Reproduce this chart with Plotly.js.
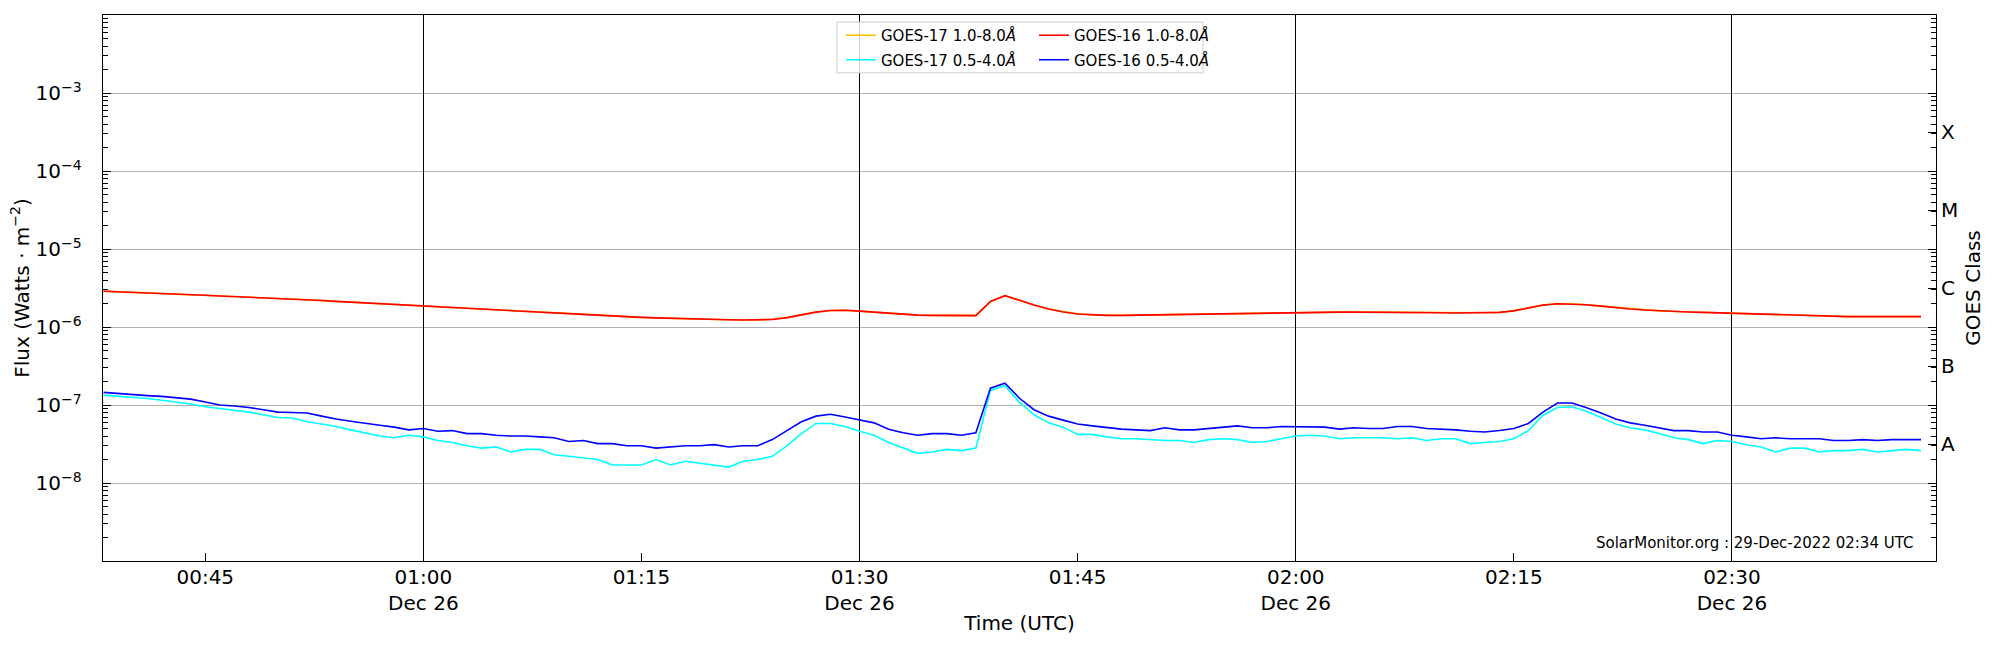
<!DOCTYPE html>
<html>
<head>
<meta charset="utf-8">
<script src="https://cdn.plot.ly/plotly-3.0.1.min.js"></script>
<style>
  html, body { margin: 0; padding: 0; background: #fff; }
  #chart { width: 2000px; height: 650px; }
</style>
</head>
<body>
<div id="chart"></div>
<script>
// GOES X-ray flux, 1-min cadence starting 2022-12-26 00:38 UTC (W m^-2)
const startTime = '2022-12-26 00:38:00';

const goes16Long = [
  2.87e-6, 2.83e-6, 2.78e-6, 2.74e-6, 2.69e-6, 2.65e-6, 2.60e-6, 2.55e-6, 2.50e-6, 2.46e-6,
  2.42e-6, 2.38e-6, 2.34e-6, 2.29e-6, 2.24e-6, 2.19e-6, 2.13e-6, 2.08e-6, 2.03e-6, 1.98e-6,
  1.93e-6, 1.89e-6, 1.86e-6, 1.82e-6, 1.77e-6, 1.73e-6, 1.69e-6, 1.65e-6, 1.61e-6, 1.57e-6,
  1.54e-6, 1.51e-6, 1.48e-6, 1.45e-6, 1.42e-6, 1.38e-6, 1.35e-6, 1.33e-6, 1.31e-6, 1.29e-6,
  1.28e-6, 1.27e-6, 1.25e-6, 1.24e-6, 1.23e-6, 1.23e-6, 1.25e-6, 1.32e-6, 1.42e-6, 1.55e-6,
  1.63e-6, 1.64e-6, 1.60e-6, 1.55e-6, 1.50e-6, 1.45e-6, 1.42e-6, 1.41e-6, 1.40e-6, 1.40e-6,
  1.40e-6, 2.13e-6, 2.52e-6, 2.20e-6, 1.91e-6, 1.70e-6, 1.56e-6, 1.47e-6, 1.43e-6, 1.41e-6,
  1.41e-6, 1.42e-6, 1.44e-6, 1.45e-6, 1.46e-6, 1.47e-6, 1.48e-6, 1.49e-6, 1.50e-6, 1.51e-6,
  1.52e-6, 1.53e-6, 1.54e-6, 1.54e-6, 1.55e-6, 1.55e-6, 1.55e-6, 1.55e-6, 1.55e-6, 1.55e-6,
  1.54e-6, 1.53e-6, 1.52e-6, 1.51e-6, 1.51e-6, 1.51e-6, 1.54e-6, 1.61e-6, 1.75e-6, 1.91e-6,
  1.99e-6, 1.98e-6, 1.93e-6, 1.85e-6, 1.76e-6, 1.70e-6, 1.65e-6, 1.61e-6, 1.58e-6, 1.56e-6,
  1.54e-6, 1.52e-6, 1.50e-6, 1.48e-6, 1.46e-6, 1.44e-6, 1.42e-6, 1.40e-6, 1.38e-6, 1.37e-6,
  1.36e-6, 1.36e-6, 1.36e-6, 1.36e-6, 1.36e-6, 1.36e-6
];

const goes17Long = [
  2.88e-6, 2.83e-6, 2.79e-6, 2.74e-6, 2.70e-6, 2.65e-6, 2.60e-6, 2.55e-6, 2.51e-6, 2.46e-6,
  2.42e-6, 2.38e-6, 2.33e-6, 2.29e-6, 2.24e-6, 2.18e-6, 2.13e-6, 2.08e-6, 2.03e-6, 1.98e-6,
  1.94e-6, 1.89e-6, 1.86e-6, 1.81e-6, 1.77e-6, 1.73e-6, 1.69e-6, 1.65e-6, 1.61e-6, 1.58e-6,
  1.54e-6, 1.51e-6, 1.48e-6, 1.45e-6, 1.41e-6, 1.38e-6, 1.35e-6, 1.33e-6, 1.31e-6, 1.29e-6,
  1.28e-6, 1.26e-6, 1.25e-6, 1.24e-6, 1.23e-6, 1.23e-6, 1.26e-6, 1.32e-6, 1.43e-6, 1.55e-6,
  1.63e-6, 1.64e-6, 1.60e-6, 1.55e-6, 1.50e-6, 1.46e-6, 1.42e-6, 1.41e-6, 1.40e-6, 1.40e-6,
  1.41e-6, 2.12e-6, 2.51e-6, 2.20e-6, 1.91e-6, 1.70e-6, 1.57e-6, 1.48e-6, 1.43e-6, 1.41e-6,
  1.41e-6, 1.42e-6, 1.43e-6, 1.45e-6, 1.46e-6, 1.47e-6, 1.48e-6, 1.49e-6, 1.50e-6, 1.51e-6,
  1.52e-6, 1.53e-6, 1.53e-6, 1.54e-6, 1.55e-6, 1.55e-6, 1.55e-6, 1.56e-6, 1.55e-6, 1.55e-6,
  1.54e-6, 1.53e-6, 1.52e-6, 1.52e-6, 1.51e-6, 1.52e-6, 1.54e-6, 1.62e-6, 1.76e-6, 1.91e-6,
  1.99e-6, 1.98e-6, 1.92e-6, 1.85e-6, 1.77e-6, 1.70e-6, 1.65e-6, 1.61e-6, 1.58e-6, 1.56e-6,
  1.54e-6, 1.52e-6, 1.50e-6, 1.48e-6, 1.46e-6, 1.44e-6, 1.42e-6, 1.40e-6, 1.38e-6, 1.37e-6,
  1.36e-6, 1.36e-6, 1.36e-6, 1.35e-6, 1.36e-6, 1.36e-6
];

const goes16Short = [
  1.45e-7, 1.40e-7, 1.34e-7, 1.32e-7, 1.29e-7, 1.25e-7, 1.19e-7, 1.09e-7, 1.00e-7, 9.7e-8,
  9.3e-8, 8.7e-8, 8.1e-8, 8.0e-8, 7.9e-8, 7.2e-8, 6.6e-8, 6.2e-8, 5.9e-8, 5.5e-8,
  5.2e-8, 4.8e-8, 5.0e-8, 4.6e-8, 4.7e-8, 4.3e-8, 4.3e-8, 4.1e-8, 4.0e-8, 4.0e-8,
  3.9e-8, 3.8e-8, 3.4e-8, 3.5e-8, 3.2e-8, 3.2e-8, 3.0e-8, 3.0e-8, 2.8e-8, 2.9e-8,
  3.0e-8, 3.0e-8, 3.1e-8, 2.9e-8, 3.0e-8, 3.0e-8, 3.6e-8, 4.7e-8, 6.1e-8, 7.2e-8,
  7.6e-8, 7.0e-8, 6.4e-8, 5.9e-8, 4.9e-8, 4.4e-8, 4.1e-8, 4.3e-8, 4.3e-8, 4.1e-8,
  4.4e-8, 1.64e-7, 1.90e-7, 1.22e-7, 8.7e-8, 7.2e-8, 6.4e-8, 5.7e-8, 5.4e-8, 5.1e-8,
  4.9e-8, 4.8e-8, 4.7e-8, 5.1e-8, 4.8e-8, 4.8e-8, 5.0e-8, 5.1e-8, 5.4e-8, 5.1e-8,
  5.1e-8, 5.3e-8, 5.3e-8, 5.2e-8, 5.2e-8, 4.9e-8, 5.1e-8, 5.0e-8, 5.0e-8, 5.3e-8,
  5.3e-8, 5.0e-8, 4.9e-8, 4.8e-8, 4.6e-8, 4.5e-8, 4.7e-8, 5.0e-8, 5.8e-8, 8.1e-8,
  1.06e-7, 1.06e-7, 9.2e-8, 7.9e-8, 6.6e-8, 5.9e-8, 5.5e-8, 5.1e-8, 4.7e-8, 4.7e-8,
  4.5e-8, 4.5e-8, 4.1e-8, 3.9e-8, 3.7e-8, 3.8e-8, 3.7e-8, 3.7e-8, 3.7e-8, 3.5e-8,
  3.5e-8, 3.6e-8, 3.5e-8, 3.6e-8, 3.6e-8, 3.6e-8
];

const goes17Short = [
  1.34e-7, 1.30e-7, 1.27e-7, 1.21e-7, 1.15e-7, 1.09e-7, 1.03e-7, 9.5e-8, 9.0e-8, 8.5e-8,
  8.1e-8, 7.5e-8, 6.9e-8, 6.8e-8, 6.1e-8, 5.7e-8, 5.3e-8, 4.8e-8, 4.4e-8, 4.0e-8,
  3.8e-8, 4.1e-8, 3.9e-8, 3.5e-8, 3.3e-8, 3.0e-8, 2.8e-8, 2.9e-8, 2.5e-8, 2.7e-8,
  2.7e-8, 2.3e-8, 2.2e-8, 2.1e-8, 2.0e-8, 1.7e-8, 1.7e-8, 1.7e-8, 2.0e-8, 1.7e-8,
  1.9e-8, 1.8e-8, 1.7e-8, 1.6e-8, 1.9e-8, 2.0e-8, 2.2e-8, 3.0e-8, 4.3e-8, 5.8e-8,
  5.8e-8, 5.3e-8, 4.6e-8, 4.1e-8, 3.3e-8, 2.8e-8, 2.4e-8, 2.5e-8, 2.7e-8, 2.6e-8,
  2.8e-8, 1.54e-7, 1.77e-7, 1.08e-7, 7.5e-8, 5.9e-8, 5.2e-8, 4.2e-8, 4.2e-8, 3.9e-8,
  3.7e-8, 3.7e-8, 3.6e-8, 3.5e-8, 3.5e-8, 3.3e-8, 3.6e-8, 3.7e-8, 3.6e-8, 3.3e-8,
  3.4e-8, 3.7e-8, 4.0e-8, 4.1e-8, 4.0e-8, 3.7e-8, 3.8e-8, 3.8e-8, 3.8e-8, 3.7e-8,
  3.8e-8, 3.5e-8, 3.7e-8, 3.7e-8, 3.2e-8, 3.3e-8, 3.4e-8, 3.7e-8, 4.7e-8, 7.4e-8,
  9.3e-8, 9.5e-8, 8.3e-8, 6.9e-8, 5.7e-8, 5.1e-8, 4.8e-8, 4.3e-8, 3.8e-8, 3.6e-8,
  3.2e-8, 3.5e-8, 3.4e-8, 3.1e-8, 2.9e-8, 2.5e-8, 2.8e-8, 2.8e-8, 2.5e-8, 2.6e-8,
  2.6e-8, 2.7e-8, 2.5e-8, 2.6e-8, 2.7e-8, 2.6e-8
];

// Axis ticks
const xRange = ['2022-12-26 00:37:58', '2022-12-26 02:44:02'];
const tickTimes = ['00:45', '01:00', '01:15', '01:30', '01:45', '02:00', '02:15', '02:30'];
const tickDates = ['', 'Dec 26', '', 'Dec 26', '', 'Dec 26', '', 'Dec 26'];
const gridTimes = ['01:00', '01:30', '02:00', '02:30'];
const fluxTicks = [1e-8, 1e-7, 1e-6, 1e-5, 1e-4, 1e-3];
const fluxLabels = ['10<sup>−8</sup>', '10<sup>−7</sup>', '10<sup>−6</sup>', '10<sup>−5</sup>', '10<sup>−4</sup>', '10<sup>−3</sup>'];
const classLevels = [3.162e-8, 3.162e-7, 3.162e-6, 3.162e-5, 3.162e-4];
const classLabels = ['A', 'B', 'C', 'M', 'X'];

const pad = (n) => String(n).padStart(2, '0');

const buildTimes = (start, count) => {
  const t0 = new Date(start.replace(' ', 'T') + 'Z').getTime();
  const out = [];
  for (let i = 0; i < count; i++) {
    const d = new Date(t0 + i * 60000);
    out.push(`${d.getUTCFullYear()}-${pad(d.getUTCMonth() + 1)}-${pad(d.getUTCDate())} ` +
      `${pad(d.getUTCHours())}:${pad(d.getUTCMinutes())}:00`);
  }
  return out;
};

const times = buildTimes(startTime, goes16Long.length);
const dayOf = (hm) => '2022-12-26 ' + hm + ':00';

// minor ticks 2..9 x 10^n on the log axis
const minorTicks = [];
for (let e = -9; e <= -3; e++) {
  for (let k = 2; k <= 9; k++) minorTicks.push(k * Math.pow(10, e));
}

const lineTrace = (y, name, color, legend, extra = {}) => Object.assign({
  x: times,
  y: y,
  name: name,
  type: 'scatter',
  mode: 'lines',
  line: { color: color, width: 1.6 },
  legend: legend,
  legendgroup: name,
  hoverinfo: 'skip'
}, extra);

const traces = [
  lineTrace(goes17Long, 'GOES-17 1.0-8.0<i>Å</i>', '#ffc400', 'legend'),
  lineTrace(goes17Short, 'GOES-17 0.5-4.0<i>Å</i>', '#00ffff', 'legend'),
  lineTrace(goes16Long, 'GOES-16 1.0-8.0<i>Å</i>', '#ff0000', 'legend2'),
  // drawn on the overlay axes so the half-hour grid and the class axis exist
  lineTrace(goes16Short, 'GOES-16 0.5-4.0<i>Å</i>', '#0000ff', 'legend2', { xaxis: 'x2', yaxis: 'y2' })
];

const legendBase = {
  yanchor: 'middle',
  y: 0.9405,
  xanchor: 'left',
  bgcolor: 'rgba(0,0,0,0)',
  borderwidth: 0,
  font: { size: 15, color: '#000' },
  traceorder: 'grouped',
  tracegroupgap: 2,
  itemwidth: 30
};

const layout = {
  width: 2000,
  height: 650,
  margin: { l: 103, r: 64, t: 15, b: 89 },
  paper_bgcolor: '#ffffff',
  plot_bgcolor: '#ffffff',
  font: { family: 'DejaVu Sans, sans-serif', size: 20, color: '#000' },
  showlegend: true,

  xaxis: {
    type: 'date',
    range: xRange,
    tickvals: tickTimes.map(dayOf),
    ticktext: tickTimes.map((t, i) => tickDates[i] ? `${t}<br>${tickDates[i]}` : t),
    ticks: 'inside',
    ticklen: 8,
    tickwidth: 1,
    tickcolor: '#000',
    tickfont: { size: 20 },
    ticklabelstandoff: -2,
    showgrid: false,
    zeroline: false,
    showline: true,
    linecolor: '#000',
    linewidth: 1.3,
    mirror: true,
    title: { text: 'Time (UTC)', font: { size: 20 }, standoff: 1 }
  },

  xaxis2: {
    type: 'date',
    overlaying: 'x',
    anchor: 'y',
    range: xRange,
    tickvals: gridTimes.map(dayOf),
    showticklabels: false,
    ticks: '',
    showgrid: true,
    gridcolor: '#000000',
    gridwidth: 1,
    showline: false,
    zeroline: false
  },

  yaxis: {
    type: 'log',
    range: [-9, -2],
    tickvals: fluxTicks,
    ticktext: fluxLabels,
    ticks: 'inside',
    ticklen: 8,
    tickwidth: 1,
    tickcolor: '#000',
    tickfont: { size: 20 },
    ticklabelstandoff: 16,
    showgrid: true,
    gridcolor: '#b0b0b0',
    gridwidth: 1,
    zeroline: false,
    showline: true,
    linecolor: '#000',
    linewidth: 1.3,
    mirror: 'ticks',
    minor: {
      tickvals: minorTicks,
      ticks: 'inside',
      ticklen: 5,
      tickwidth: 1,
      tickcolor: '#000',
      showgrid: false
    },
    title: { text: 'Flux (Watts · m<sup>−2</sup>)', font: { size: 20 } }
  },

  yaxis2: {
    type: 'log',
    overlaying: 'y',
    side: 'right',
    anchor: 'x',
    range: [-9, -2],
    tickvals: classLevels,
    ticktext: classLabels,
    ticks: 'inside',
    ticklen: 8,
    tickwidth: 1,
    tickcolor: '#000',
    tickfont: { size: 20 },
    ticklabelstandoff: 4,
    showgrid: false,
    zeroline: false,
    showline: false,
    title: { text: 'GOES Class', font: { size: 20 }, standoff: 8 }
  },

  legend: Object.assign({}, legendBase, { x: 0.4026 }),
  legend2: Object.assign({}, legendBase, { x: 0.5079 }),

  shapes: [
    {
      type: 'rect',
      xref: 'paper',
      yref: 'paper',
      x0: 0.4004,
      x1: 0.6001,
      y0: 0.894,
      y1: 0.987,
      layer: 'above',
      fillcolor: 'rgba(255,255,255,0.8)',
      line: { color: '#cccccc', width: 1 }
    }
  ],

  annotations: [
    {
      xref: 'paper',
      yref: 'paper',
      x: 0.9885,
      y: 0.033,
      xanchor: 'right',
      yanchor: 'middle',
      showarrow: false,
      text: 'SolarMonitor.org : 29-Dec-2022 02:34 UTC',
      font: { size: 15, color: '#000' }
    }
  ]
};

Plotly.newPlot('chart', traces, layout, { displayModeBar: false, staticPlot: true });
</script>
</body>
</html>
